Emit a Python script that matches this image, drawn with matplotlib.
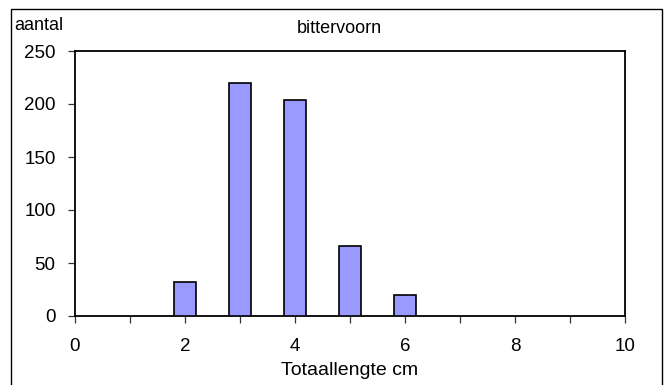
import matplotlib
matplotlib.use("Agg")
import matplotlib.pyplot as plt
from matplotlib.patches import Rectangle

# Length classes (cm) and number of fish counted per class
lengths = [2, 3, 4, 5, 6]
counts = [32, 220, 204, 66, 20]

title = "bittervoorn"
ylabel = "aantal"
xlabel = "Totaallengte cm"
xticks = [0, 2, 4, 6, 8, 10]
yticks = [0, 50, 100, 150, 200, 250]

plt.rcParams["font.family"] = ["Liberation Sans", "DejaVu Sans"]

W, H = 670, 385
fig = plt.figure(figsize=(W / 100, H / 100), dpi=100)
fig.patch.set_facecolor("white")

# axes box in pixel coordinates: left 75, right 625, top 51, bottom 316
l, r, t, b = 75, 625, 51, 316
ax = fig.add_axes([l / W, 1 - b / H, (r - l) / W, (b - t) / H])

ax.bar(lengths, counts, width=0.4, color="#9999FF", edgecolor="black",
       linewidth=1.2, zorder=3)

ax.set_xlim(0, 10)
ax.set_ylim(0, 250)
ax.set_xticks(xticks)
ax.set_xticks(range(0, 11), minor=True)
ax.set_yticks(yticks)
ax.tick_params(axis="both", which="both", direction="out", length=5,
               width=0.9, color="#333333", labelsize=13.5)
ax.tick_params(axis="x", which="both", pad=11)
ax.tick_params(axis="y", which="both", pad=9)
for s in ax.spines.values():
    s.set_linewidth(1.3)
    s.set_color("black")

fig.text(350 / W, 1 - 375 / H, xlabel, ha="center", va="baseline", fontsize=14)
fig.text(339 / W, 1 - 33 / H, title, ha="center", va="baseline", fontsize=13)
fig.text(14 / W, 1 - 30 / H, ylabel, ha="left", va="baseline", fontsize=13)

# outer chart border
fig.patches.append(Rectangle((11 / W, -0.05), (662 - 11) / W, 1 - 9 / H + 0.05,
                             transform=fig.transFigure, fill=False,
                             edgecolor="black", linewidth=1.0))

fig.savefig("out.png", dpi=100)
